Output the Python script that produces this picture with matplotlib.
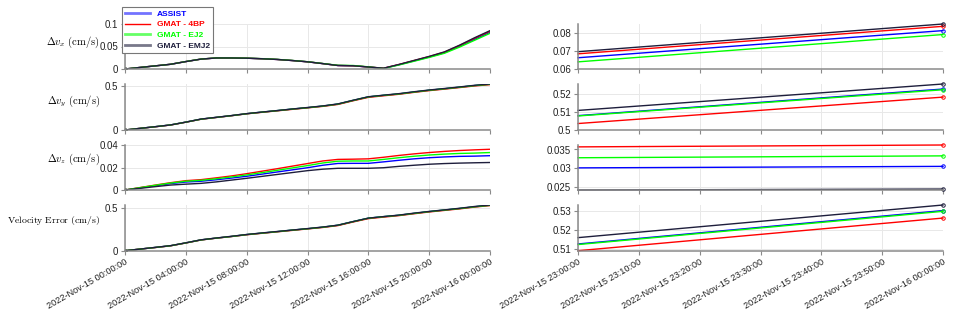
import datetime as dt
import matplotlib
matplotlib.use("Agg")
import matplotlib.pyplot as plt
import matplotlib.dates as mdates
from matplotlib.lines import Line2D
from matplotlib.ticker import FuncFormatter

plt.rcParams['font.family'] = ['Liberation Sans', 'DejaVu Sans']
plt.rcParams['mathtext.fontset'] = 'cm'

# ---------------- data ----------------
series_names = ['ASSIST', 'GMAT - 4BP', 'GMAT - EJ2', 'GMAT - EMJ2']
series_colors = ['#0000ff', '#ff0000', '#00ff00', '#1e1e3c']

hours = list(range(25))  # hours after 2022-11-15 00:00

dvx = {
    'ASSIST':      [0, 0.0035, 0.007, 0.0105, 0.0165, 0.0220, 0.0245, 0.0245, 0.0240, 0.0228, 0.0212, 0.0188, 0.0160,
                    0.0120, 0.0078, 0.0072, 0.0044, 0.0015, 0.0094, 0.0180, 0.0267, 0.0362, 0.0506, 0.0663, 0.0815],
    'GMAT - 4BP':  [0, 0.0035, 0.007, 0.0105, 0.0165, 0.0220, 0.0245, 0.0245, 0.0240, 0.0228, 0.0212, 0.0188, 0.0160,
                    0.0120, 0.0078, 0.0072, 0.0045, 0.0017, 0.0098, 0.0187, 0.0276, 0.0374, 0.0522, 0.0685, 0.0839],
    'GMAT - EJ2':  [0, 0.0035, 0.007, 0.0105, 0.0166, 0.0221, 0.0246, 0.0246, 0.0241, 0.0230, 0.0214, 0.0190, 0.0162,
                    0.0122, 0.0082, 0.0078, 0.0048, 0.0012, 0.0088, 0.0172, 0.0257, 0.0349, 0.0487, 0.0640, 0.0793],
    'GMAT - EMJ2': [0, 0.0035, 0.007, 0.0105, 0.0165, 0.0220, 0.0245, 0.0245, 0.0240, 0.0228, 0.0212, 0.0188, 0.0160,
                    0.0120, 0.0078, 0.0072, 0.0045, 0.0018, 0.0100, 0.0190, 0.0280, 0.0380, 0.0530, 0.0697, 0.0852],
}
dvy = {
    'ASSIST':      [0, 0.019, 0.038, 0.058, 0.090, 0.124, 0.144, 0.164, 0.186, 0.204, 0.221, 0.239, 0.255,
                    0.273, 0.296, 0.338, 0.378, 0.396, 0.412, 0.434, 0.454, 0.471, 0.489, 0.5080, 0.5228],
    'GMAT - 4BP':  [0, 0.019, 0.037, 0.057, 0.089, 0.123, 0.143, 0.163, 0.185, 0.202, 0.219, 0.236, 0.253,
                    0.270, 0.292, 0.334, 0.373, 0.391, 0.408, 0.430, 0.450, 0.467, 0.485, 0.5036, 0.5183],
    'GMAT - EJ2':  [0, 0.019, 0.038, 0.058, 0.090, 0.124, 0.144, 0.164, 0.186, 0.204, 0.221, 0.239, 0.255,
                    0.273, 0.296, 0.338, 0.378, 0.396, 0.412, 0.434, 0.454, 0.471, 0.489, 0.5078, 0.5224],
    'GMAT - EMJ2': [0, 0.019, 0.038, 0.058, 0.090, 0.125, 0.145, 0.165, 0.187, 0.205, 0.222, 0.240, 0.257,
                    0.275, 0.298, 0.340, 0.380, 0.398, 0.415, 0.437, 0.457, 0.474, 0.492, 0.5109, 0.5256],
}
dvz = {
    'ASSIST':      [0, 0.0019, 0.0038, 0.0057, 0.0071, 0.0078, 0.0091, 0.0106, 0.0122, 0.0141, 0.0160, 0.0179, 0.0198,
                    0.0220, 0.0236, 0.0237, 0.0237, 0.0250, 0.0264, 0.0277, 0.0287, 0.0294, 0.0299, 0.0301, 0.0305],
    'GMAT - 4BP':  [0, 0.0022, 0.0044, 0.0065, 0.0083, 0.0092, 0.0108, 0.0125, 0.0145, 0.0167, 0.0189, 0.0212, 0.0235,
                    0.0258, 0.0272, 0.0274, 0.0277, 0.0291, 0.0307, 0.0321, 0.0333, 0.0343, 0.0351, 0.0357, 0.0362],
    'GMAT - EJ2':  [0, 0.0021, 0.0042, 0.0062, 0.0078, 0.0086, 0.0100, 0.0116, 0.0134, 0.0154, 0.0175, 0.0196, 0.0217,
                    0.0240, 0.0256, 0.0258, 0.0258, 0.0272, 0.0287, 0.0300, 0.0311, 0.0319, 0.0325, 0.0328, 0.0333],
    'GMAT - EMJ2': [0, 0.0015, 0.0030, 0.0044, 0.0052, 0.0059, 0.0072, 0.0088, 0.0104, 0.0121, 0.0138, 0.0155, 0.0172,
                    0.0185, 0.0193, 0.0193, 0.0193, 0.0198, 0.0210, 0.0220, 0.0229, 0.0235, 0.0239, 0.0242, 0.02445],
}
verr = {
    'ASSIST':      [0, 0.019, 0.038, 0.058, 0.091, 0.126, 0.147, 0.166, 0.188, 0.205, 0.222, 0.240, 0.256,
                    0.274, 0.297, 0.339, 0.379, 0.397, 0.413, 0.435, 0.456, 0.474, 0.492, 0.5128, 0.5302],
    'GMAT - 4BP':  [0, 0.019, 0.037, 0.057, 0.090, 0.125, 0.146, 0.165, 0.186, 0.203, 0.220, 0.237, 0.254,
                    0.271, 0.293, 0.335, 0.374, 0.392, 0.409, 0.431, 0.452, 0.470, 0.488, 0.5093, 0.5263],
    'GMAT - EJ2':  [0, 0.019, 0.038, 0.058, 0.091, 0.126, 0.147, 0.166, 0.188, 0.205, 0.222, 0.240, 0.256,
                    0.274, 0.297, 0.339, 0.379, 0.397, 0.413, 0.435, 0.456, 0.474, 0.492, 0.5125, 0.5298],
    'GMAT - EMJ2': [0, 0.019, 0.039, 0.059, 0.092, 0.127, 0.148, 0.168, 0.189, 0.207, 0.224, 0.241, 0.258,
                    0.276, 0.298, 0.340, 0.380, 0.398, 0.415, 0.438, 0.458, 0.476, 0.495, 0.5161, 0.5331],
}

row_data = [dvx, dvy, dvz, verr]
row_labels = [r'$\Delta v_x\ \mathrm{(cm/s)}$', r'$\Delta v_y\ \mathrm{(cm/s)}$',
              r'$\Delta v_z\ \mathrm{(cm/s)}$', r'$\mathrm{Velocity\ Error\ (cm/s)}$']
label_sizes = [7.6, 7.6, 7.6, 7.0]
left_ylims = [(0, 0.1), (0, 0.5256), (0, 0.04), (0, 0.5331)]
left_yticks = [[0, 0.05, 0.1], [0, 0.5], [0, 0.02, 0.04], [0, 0.5]]
right_ylims = [(0.06, 0.0852), (0.5, 0.5256), (0.0242, 0.0362), (0.5093, 0.5331)]
right_yticks = [[0.06, 0.07, 0.08], [0.5, 0.51, 0.52], [0.025, 0.03, 0.035], [0.51, 0.52, 0.53]]

start = dt.datetime(2022, 11, 15, 0, 0, 0)
times = [start + dt.timedelta(hours=h) for h in hours]

# ---------------- figure ----------------
W, H = 973, 323
fig = plt.figure(figsize=(W / 100, H / 100), dpi=100)

rows_px = [(24, 69), (84, 130), (145, 190), (205, 250.7)]
lx0, rx0, wpx = 125, 578, 365
label_y = [0.60, 0.63, 0.67, 0.65]

spine_col = '#8a8a8a'
fmt = FuncFormatter(lambda v, p: ('%g' % round(v, 6)))


def style_axes(ax):
    for s in ['top', 'right']:
        ax.spines[s].set_visible(False)
    for s in ['left', 'bottom']:
        ax.spines[s].set_color(spine_col)
        ax.spines[s].set_linewidth(1.1)
    ax.tick_params(axis='both', direction='out', length=3, width=0.8, color=spine_col,
                   labelsize=7, pad=2, labelcolor='#222222')
    ax.grid(True, color='#e8e8e8', linewidth=0.7)
    ax.set_axisbelow(True)
    ax.yaxis.set_major_formatter(fmt)


for i, (top, bot) in enumerate(rows_px):
    b = 1 - bot / H
    h = (bot - top) / H
    axL = fig.add_axes([lx0 / W, b, wpx / W, h])
    axR = fig.add_axes([rx0 / W, b, wpx / W, h])
    data = row_data[i]
    for name, col in zip(series_names, series_colors):
        axL.plot(times, data[name], color=col, lw=1.0, marker='o', markevery=[0],
                 markersize=2.2, markerfacecolor='none', markeredgewidth=0.6)
        axR.plot(times[-2:], data[name][-2:], color=col, lw=1.0, marker='o', markevery=[1],
                 markersize=2.5, markerfacecolor='none', markeredgewidth=0.7, clip_on=False)
    style_axes(axL)
    style_axes(axR)
    axL.set_xlim(times[0], times[-1])
    axR.set_xlim(times[-2], times[-1])
    axL.set_ylim(*left_ylims[i])
    axR.set_ylim(*right_ylims[i])
    axL.set_yticks(left_yticks[i])
    axR.set_yticks(right_yticks[i])
    axL.xaxis.set_major_locator(mdates.HourLocator(byhour=[0, 4, 8, 12, 16, 20]))
    axR.xaxis.set_major_locator(mdates.MinuteLocator(byminute=[0, 10, 20, 30, 40, 50]))
    df = mdates.DateFormatter('%Y-%b-%d %H:%M:%S')
    axL.xaxis.set_major_formatter(df)
    axR.xaxis.set_major_formatter(df)
    axL.set_ylabel(row_labels[i], rotation=0, ha='right', va='center', fontsize=label_sizes[i])
    axL.yaxis.set_label_coords(-0.068, label_y[i])
    if i < 3:
        axL.tick_params(labelbottom=False)
        axR.tick_params(labelbottom=False)
    else:
        for ax in (axL, axR):
            for lab in ax.get_xticklabels():
                lab.set_rotation(30)
                lab.set_ha('right')
                lab.set_rotation_mode('anchor')
                lab.set_fontsize(6.6)

# legend
handles = [Line2D([], [], color=series_colors[0], lw=2, alpha=0.55),
           Line2D([], [], color=series_colors[1], lw=1),
           Line2D([], [], color=series_colors[2], lw=2, alpha=0.6),
           Line2D([], [], color=series_colors[3], lw=2, alpha=0.6)]
leg = fig.legend(handles, series_names, loc='upper left', bbox_to_anchor=(122 / W, 1 - 7 / H),
                 fontsize=6, frameon=True, fancybox=False, edgecolor='#777777', framealpha=1,
                 handlelength=3.0, labelspacing=0.35, borderpad=0.35, handletextpad=0.8,
                 borderaxespad=0)
leg.get_frame().set_linewidth(0.8)
for t, c in zip(leg.get_texts(), series_colors):
    t.set_color(c)
    t.set_fontweight('bold')

fig.savefig('out.png', dpi=100)
